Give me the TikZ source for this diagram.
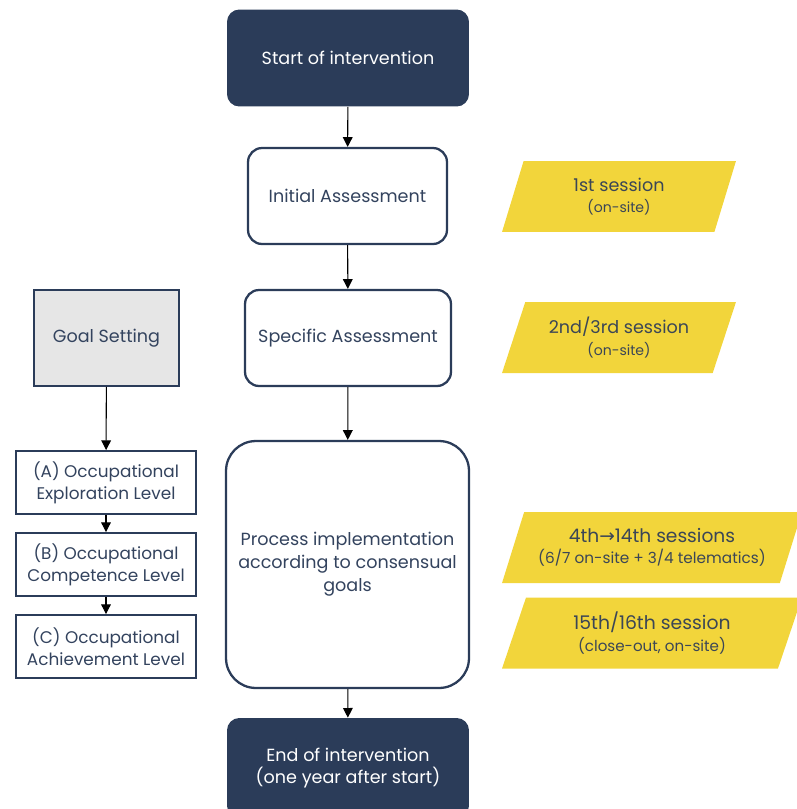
\documentclass[tikz,border=0pt]{standalone}
\usepackage{fontspec}
\setmainfont{Poppins}
\newfontfamily\arrowfont{DejaVu Sans}
\usepackage{tikz}
\usetikzlibrary{positioning, arrows.meta, shapes.geometric}
\definecolor{navy}{HTML}{2B3C59}
\definecolor{sunny}{HTML}{F2D53B}
\definecolor{paleg}{HTML}{E6E6E6}
\definecolor{inktext}{HTML}{33435E}
\definecolor{sessiontext}{HTML}{3B4656}

\begin{document}
\begin{tikzpicture}[x=0.02cm, y=-0.02cm,
	term/.style={fill=navy, text=white, rounded corners=7pt, align=center, font=\fontsize{10}{13}\selectfont},
	phase/.style={draw=navy, line width=1.3pt, fill=white, text=inktext, rounded corners=8pt, align=center, font=\fontsize{10}{13}\selectfont},
	level/.style={draw=navy, line width=1.1pt, fill=white, text=inktext, align=center, minimum width=3.6cm, minimum height=1.26cm, inner sep=1pt, font=\fontsize{9.6}{12.5}\selectfont},
	session/.style={trapezium, trapezium left angle=62, trapezium right angle=118, trapezium stretches body, fill=sunny, text=sessiontext, align=center, minimum height=1.42cm, inner sep=1pt},
	link/.style={-{Triangle[width=5.5pt,length=5.5pt]}, black, line width=0.6pt}]

	\useasboundingbox (0,0) rectangle (796,809);

	% main column
	\node[term, minimum width=4.84cm, minimum height=1.94cm] (start) at (348,58) {Start of intervention};
	\node[phase, minimum width=3.98cm, minimum height=1.92cm] (init) at (347.5,196) {Initial Assessment};
	\node[phase, minimum width=4.12cm, minimum height=1.92cm] (spec) at (348,338) {Specific Assessment};
	\node[phase, rounded corners=17pt, minimum width=4.86cm, minimum height=4.94cm] (proc) at (347.5,564.5) {Process implementation\\according to consensual\\goals};
	\node[term, minimum width=4.84cm, minimum height=2.0cm] (finish) at (348,768) {End of intervention\\(one year after start)};

	% goal levels
	\node[level, fill=paleg, minimum width=2.9cm, minimum height=1.92cm, font=\fontsize{10}{13}\selectfont] (goal) at (106.5,338) {Goal Setting};
	\node[level] (lvlA) at (106,482.5) {(A) Occupational\\Exploration Level};
	\node[level] (lvlB) at (106,564.5) {(B) Occupational\\Competence Level};
	\node[level] (lvlC) at (106,646.5) {(C) Occupational\\Achievement Level};

	% sessions
	\node[session, minimum width=4.68cm] (ses1) at (619,196.5) {{\fontsize{10}{13}\selectfont 1st session}\\{\fontsize{8}{11}\selectfont (on-site)}};
	\node[session, minimum width=4.68cm] (ses2) at (619,337.5) {{\fontsize{10}{13}\selectfont 2nd/3rd session}\\{\fontsize{8}{11}\selectfont (on-site)}};
	\node[session, minimum width=6.0cm] (ses3) at (652,547.5) {{\fontsize{10.6}{13}\selectfont 4th{\arrowfont →}14th sessions}\\{\fontsize{8.7}{11}\selectfont (6/7 on-site + 3/4 telematics)}};
	\node[session, minimum width=6.0cm] (ses4) at (652,633) {{\fontsize{10.7}{13}\selectfont 15th/16th session}\\{\fontsize{8.6}{11}\selectfont (close-out, on-site)}};

	\draw[link] (start) -- (init);
	\draw[link] (init) -- (spec);
	\draw[link] (spec) -- (proc);
	\draw[link] (proc) -- (finish);
	\draw[link] (goal) -- (lvlA);
	\draw[link] (lvlA) -- (lvlB);
	\draw[link] (lvlB) -- (lvlC);
\end{tikzpicture}
\end{document}
